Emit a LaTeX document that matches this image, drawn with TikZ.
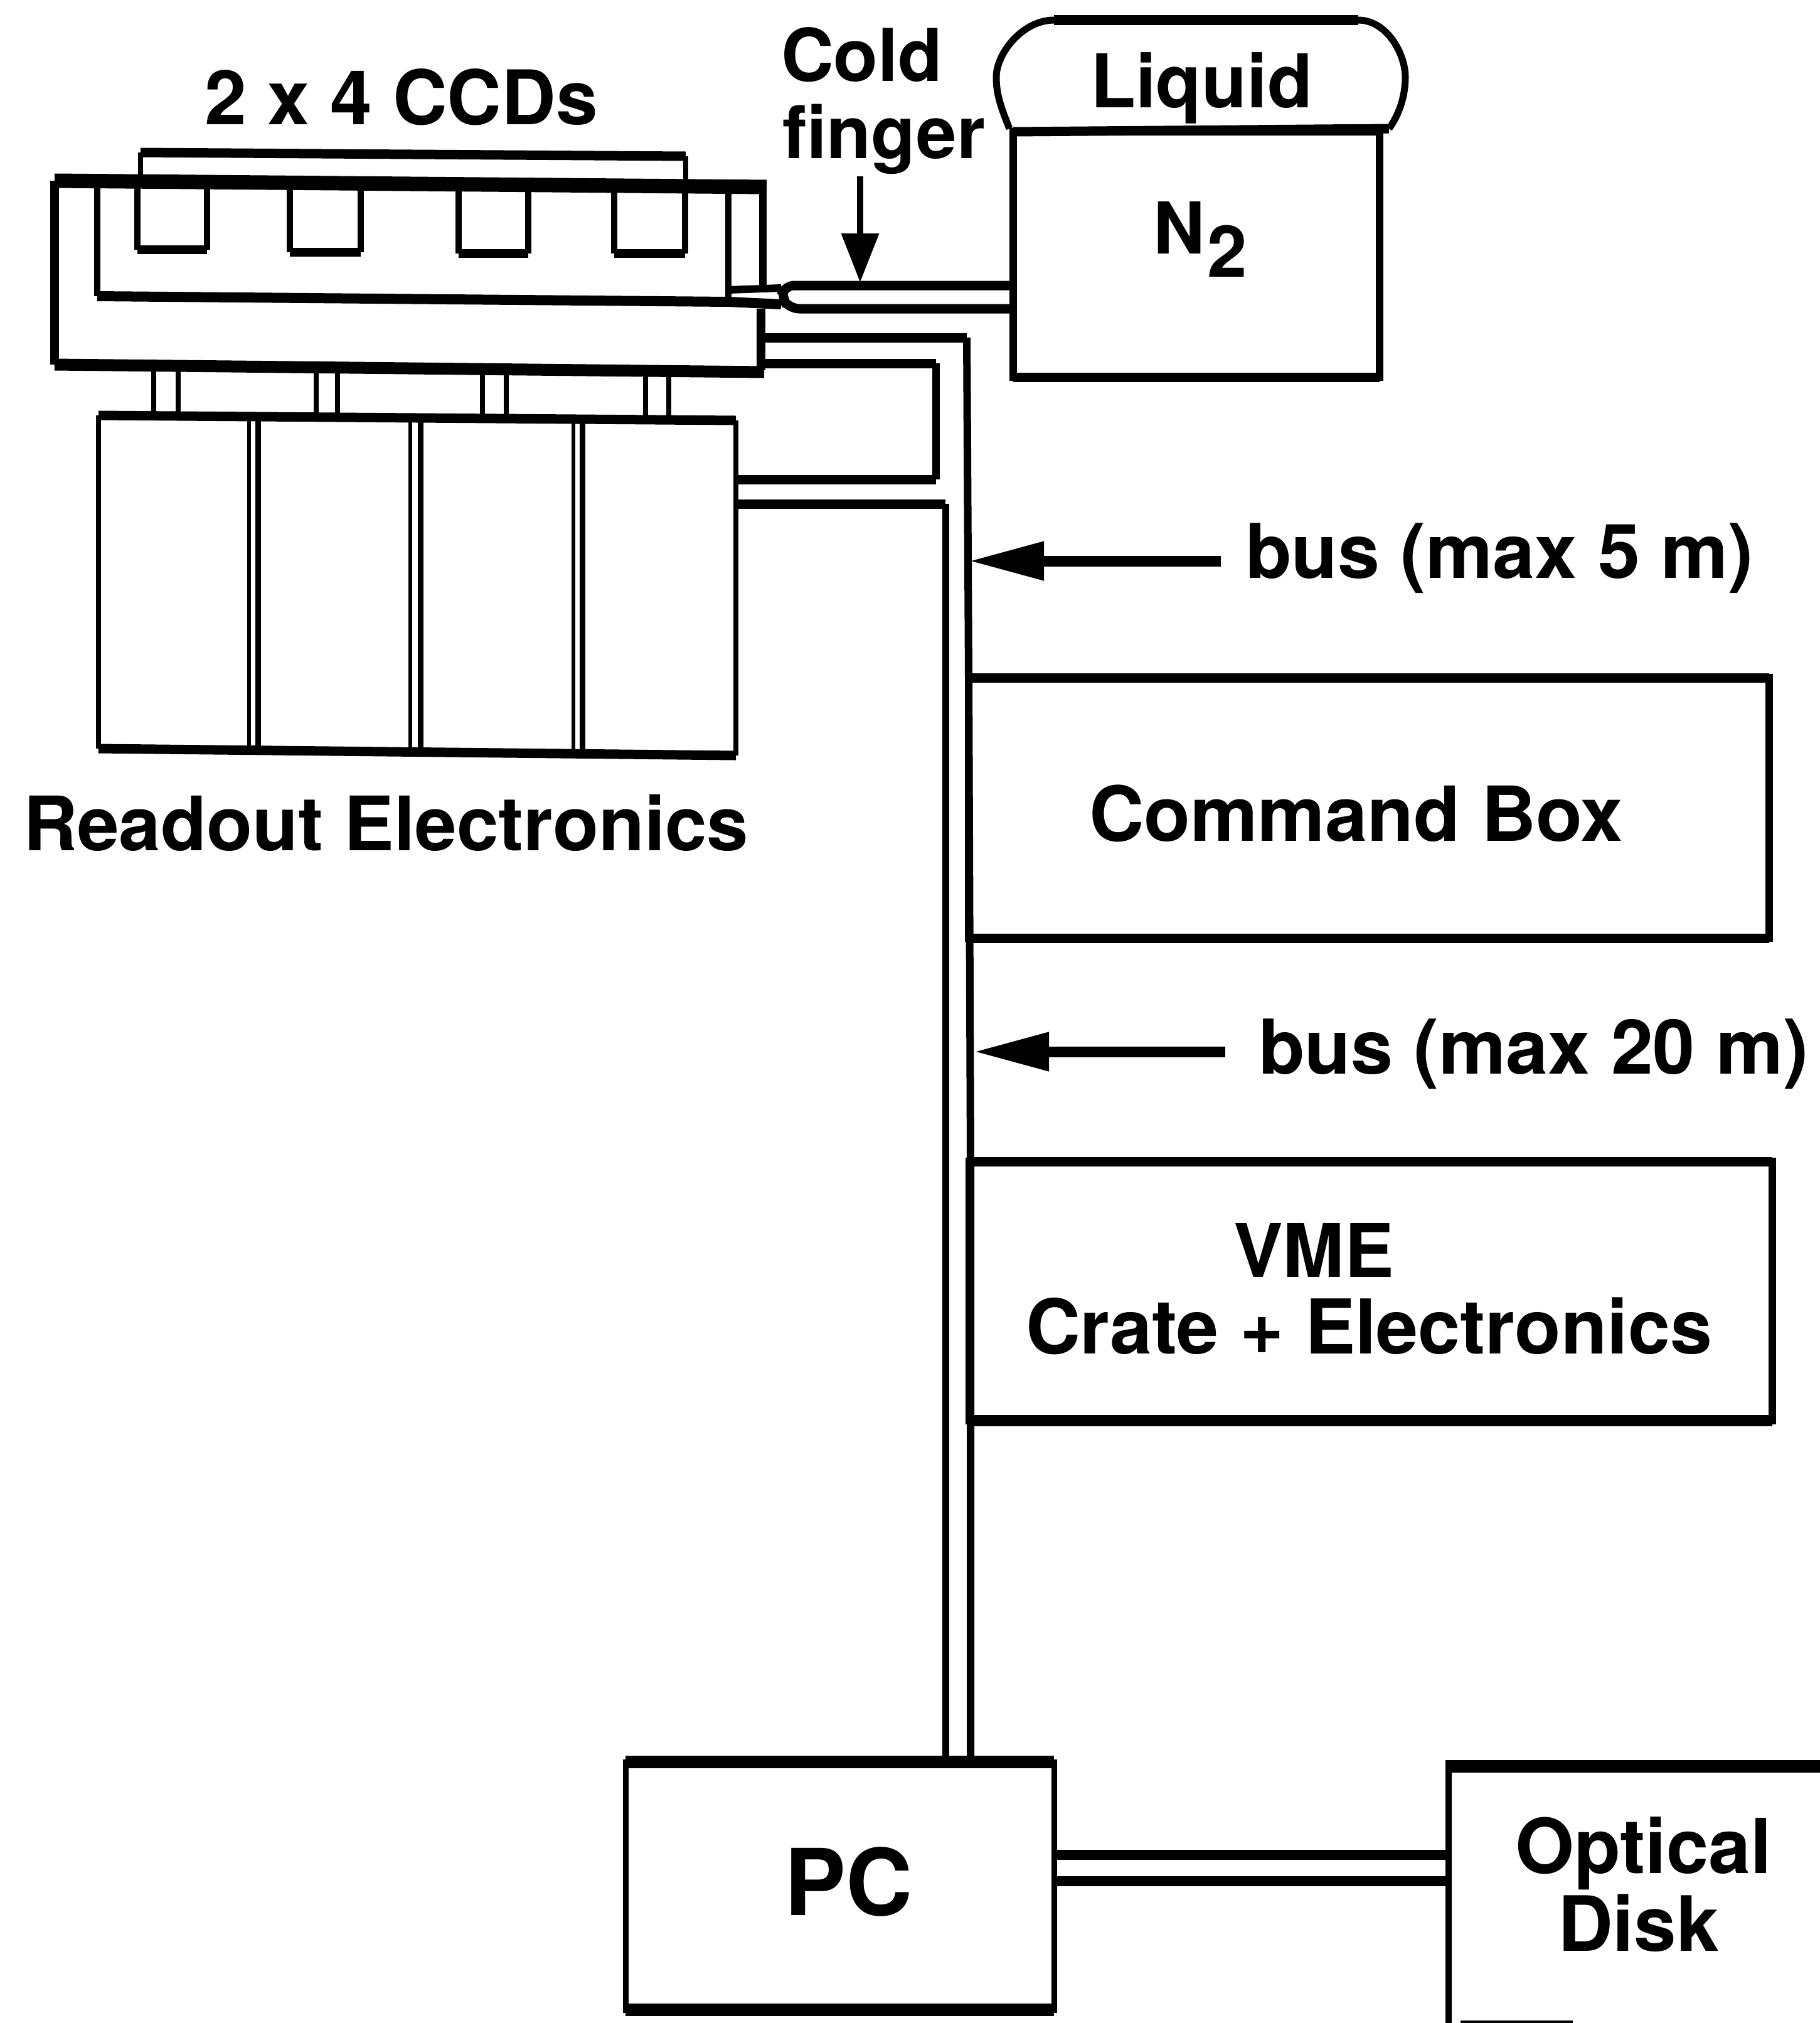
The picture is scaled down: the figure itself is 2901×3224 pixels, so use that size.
\documentclass[tikz,border=0pt]{standalone}
\usepackage{fontspec}
\setmainfont{TeX Gyre Heros}
\usetikzlibrary{arrows.meta}
\newcommand\fsz[1]{\fontsize{#1}{#1}\selectfont\bfseries}
\tikzset{
  x=0.25pt,y=-0.25pt,
  lbl/.style={inner sep=0pt,outer sep=0pt,anchor=base west},
  frame/.style={draw=black,line width=3pt,inner sep=0pt,outer sep=0pt,rectangle},
  vl/.style={line width=3pt,line cap=square,draw=black},
  vthin/.style={line width=2pt,line cap=butt,draw=black},
  hl/.style={line width=3.75pt,line cap=square,draw=black},
  hthick/.style={line width=5pt,line cap=square,draw=black},
  pointer/.style={draw=black,line width=4.25pt,-{Triangle[length=30pt,width=14.5pt]}},
  finpointer/.style={draw=black,line width=2.5pt,-{Triangle[length=19.5pt,width=14.5pt]}}
}
\begin{document}
\begin{tikzpicture}
\useasboundingbox (0,0) rectangle (2901,3224);
\fill[white] (0,0) rectangle (2901,3224);

% --- named corner points of the cryostat
\coordinate (oTL) at (87,288);  \coordinate (oTR) at (1222,298);
\coordinate (oBL) at (87,581);  \coordinate (oBR) at (1218,593);
\coordinate (iTL) at (155,290); \coordinate (iBL) at (155,472);
\coordinate (iBR) at (1161,481); \coordinate (iTR) at (1161,297);
\coordinate (stemT) at (1216,298); \coordinate (stemB) at (1216,462);
\coordinate (lowT) at (1213,492); \coordinate (lowB) at (1213,590);
\coordinate (fTip) at (1245,473);
\coordinate (fTop) at (1615,455); \coordinate (fBot) at (1615,492);

% outer and inner housing
\draw[hthick,line width=5.75pt] (oTL) -- (oTR);
\draw[hthick,line width=4.75pt] (oBL) -- (oBR);
\draw[vl,line width=3.5pt] (oTL) -- (oBL);
\draw[vl,line cap=butt] (stemT) -- (stemB);
\draw[vl,line cap=butt,line width=3.5pt] (lowT) -- (lowB);
\draw[vl,line width=2.5pt,line cap=butt] (iTL) -- (iBL);
\draw[vl,line width=2.5pt,line cap=butt] (iTR) -- (iBR);
\draw[hl,line width=4pt,line cap=butt] (iBL) -- (iBR) -- (1245,485);
\draw[hl,line width=3pt,line cap=butt] (1161,462) -- (1245,459);

% cold finger
\draw[draw=black,line width=3.75pt,rounded corners=4pt] (fTop) -- (1250,455) -- (fTip) -- (1258,492) -- (fBot);

% bracket over the CCDs
\coordinate (brL) at (224,290); \coordinate (brTL) at (224,243);
\coordinate (brTR) at (1093,249); \coordinate (brR) at (1093,292);
\draw[vl,line width=2pt,line cap=butt] (brL) -- (brTL);
\draw[hl,line width=3.75pt] (brTL) -- (brTR);
\draw[vl,line width=2pt,line cap=butt] (brTR) -- (brR);

% four CCDs, open to the top
\foreach \n/\a/\b/\c in {1/219/330/398,2/462/575/402,3/731/842/404,4/979/1092/404}{
  \coordinate (ccd\n a) at (\a,296);
  \coordinate (ccd\n b) at (\a,\c);
  \coordinate (ccd\n c) at (\b,\c);
  \coordinate (ccd\n d) at (\b,298);
  \draw[vl,line width=2.5pt,line cap=butt] (ccd\n a) -- (ccd\n b);
  \draw[vl,line width=2.5pt,line cap=butt] (ccd\n c) -- (ccd\n d);
  \draw[hl,line width=3.5pt] (ccd\n b) -- (ccd\n c);
}

% readout electronics
\coordinate (rTL) at (157,662); \coordinate (rTR) at (1173,670);
\coordinate (rBL) at (157,1193); \coordinate (rBR) at (1173,1204);
\draw[hl,line width=3.75pt] (rTL) -- (rTR);
\draw[hl,line width=3.75pt] (rBL) -- (rBR);
\draw[vl,line width=2pt,line cap=butt] (rTL) -- (rBL);
\draw[vl,line width=2pt,line cap=butt] (rTR) -- (rBR);
\foreach \n/\a/\b in {1/397/411,2/654/670,3/914/928}{
  \coordinate (da\n) at (\a,665); \coordinate (db\n) at (\a,1196);
  \coordinate (dc\n) at (\b,665); \coordinate (dd\n) at (\b,1196);
  \draw[vthin,line width=1.6pt] (da\n) -- (db\n);
  \draw[vthin,line width=2.25pt] (dc\n) -- (dd\n);
}
\foreach \n/\a/\b in {1/245/284,2/504/538,3/769/807,4/1029/1066}{
  \coordinate (ca\n) at (\a,590); \coordinate (cb\n) at (\a,662);
  \coordinate (cc\n) at (\b,590); \coordinate (cd\n) at (\b,664);
  \draw[vthin] (ca\n) -- (cb\n);
  \draw[vthin] (cc\n) -- (cd\n);
}

% nitrogen dewar
\node[frame,minimum width=146pt,minimum height=97.75pt] (dewar) at (1907,405.5) {};
\coordinate (capL) at (1609,205); \coordinate (capR) at (2214,205);
\draw[hl] (dewar.north west) -- (capR);
\draw[hl] (dewar.south west) -- (dewar.south east);
\draw[draw=black,line width=2.75pt]
  (capL) .. controls (1595,170) and (1588,150) .. (1588,123)
  .. controls (1588,85) and (1630,32) .. (1680,32) -- (2165,32)
  .. controls (2210,32) and (2240,85) .. (2240,123)
  .. controls (2240,150) and (2232,180) .. (capR);
\draw[draw=black,line width=4pt] (1680,32) -- (2165,32);

% boxes
\node[frame,minimum width=319pt,minimum height=103.75pt] (cmd) at (2182,1287.5) {};
\draw[hl] (cmd.north west) -- (cmd.north east);
\draw[hl] (cmd.south west) -- (cmd.south east);
\node[frame,minimum width=320pt,minimum height=103.25pt] (vme) at (2185,2057.5) {};
\draw[hl] (vme.north west) -- (vme.north east);
\draw[hl,line width=4.5pt] (vme.south west) -- (vme.south east);
\node[frame,line width=2.25pt,minimum width=170.75pt,minimum height=98.75pt] (pc) at (1338.5,3005.5) {};
\draw[hthick] (pc.north west) -- (pc.north east);
\draw[hthick] (pc.south west) -- (pc.south east);

% optical disk, running off the page
\coordinate (dTL) at (2309,2815); \coordinate (dTR) at (2901,2815); \coordinate (dBL) at (2309,3224);
\coordinate (dbA) at (2328,3224); \coordinate (dbB) at (2507,3224);
\draw[draw=black,line width=2.5pt] (dTL) -- (dBL);
\draw[draw=black,line width=5pt] (2304,2815) -- (dTR);
\draw[draw=black,line width=2pt] (dbA) -- (dbB);

% buses
\coordinate (b1a) at (1216,538); \coordinate (b1b) at (1541,538); \coordinate (b1c) at (1544,1080);
\coordinate (b1d) at (1547,1851);
\coordinate (b2a) at (1213,579); \coordinate (b2b) at (1492,579); \coordinate (b2c) at (1492,764);
\coordinate (b2d) at (1173,764);
\coordinate (b3a) at (1173,803); \coordinate (b3b) at (1507,803);
\draw[hl] (b1a) -- (b1b);
\draw[vl] (b1b) -- (b1c) -- (b1d) -- (b1d |- pc.north);
\draw[hl] (b2a) -- (b2b);
\draw[vl] (b2b) -- (b2c);
\draw[hl] (b2c) -- (b2d);
\draw[hl] (b3a) -- (b3b);
\draw[vl,line width=2.75pt] (b3b) -- (b3b |- pc.north);

% PC to disk
\coordinate (pd1) at (2309,2956); \coordinate (pd2) at (2309,2998);
\draw[draw=black,line width=4pt] (pc.east |- pd1) -- (pd1);
\draw[draw=black,line width=4pt] (pc.east |- pd2) -- (pd2);

% pointers
\coordinate (cfS) at (1371,281); \coordinate (cfE) at (1371,450);
\draw[finpointer] (cfS) -- (cfE);
\coordinate (p1S) at (1946,894); \coordinate (p1E) at (1544,894);
\draw[pointer] (p1S) -- (p1E);
\coordinate (p2S) at (1953,1676); \coordinate (p2E) at (1552,1676);
\draw[pointer] (p2S) -- (p2E);

% labels
\node[lbl] (tccd) at (326,198) {\fsz{30}2 x 4 CCDs};
\node[lbl] (tcold) at (1245,129) {\fsz{29}Cold};
\node[lbl] (tfing) at (1247,252) {\fsz{29}finger};
\node[lbl] (tliq) at (1738,171) {\fsz{29.5}Liquid};
\node[lbl] (tn) at (1838,404) {\fsz{28.5}N\hspace{1pt}\raisebox{-9.25pt}{2}};
\node[lbl] (tread) at (37,1355) {\fsz{29.9}Readout Electronics};
\node[lbl] (tb5) at (1985,921) {\fsz{30.1}bus (max 5 m)};
\node[lbl] (tb20) at (2006,1711) {\fsz{30.1}bus (max 20 m)};
\node[lbl] (tcmd) at (1736,1340) {\fsz{30.25}Command Box};
\node[lbl] (tvme) at (1966,2035) {\fsz{29.5}VME};
\node[lbl] (tcrate) at (1635,2157) {\fsz{30.1}Crate + Electronics};
\node[lbl] (tpc) at (1250,3052) {\fsz{36.75}PC};
\node[lbl] (topt) at (2415,2985) {\fsz{30.2}Optical};
\node[lbl] (tdisk) at (2483,3109) {\fsz{30.4}Disk};
\end{tikzpicture}
\end{document}
